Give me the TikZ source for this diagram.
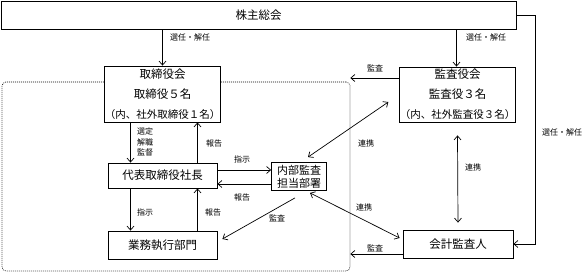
\documentclass[tikz,border=0pt]{standalone}
\usepackage{fontspec}
\setmainfont{Noto Sans CJK JP}
\usetikzlibrary{arrows.meta}

\tikzset{
  box/.style={draw, fill=white, line width=0.8pt, inner sep=0pt, font=\fontsize{11.5}{20}\selectfont, align=center},
  lbl/.style={font=\fontsize{8}{10.5}\selectfont, inner sep=0pt},
  arr/.style={-{Straight Barb[length=4pt,width=7pt]}, line width=0.7pt},
  darr/.style={{Straight Barb[length=4pt,width=7pt]}-{Straight Barb[length=4pt,width=7pt]}, line width=0.7pt}
}

\begin{document}
\begin{tikzpicture}[x=1pt,y=-1pt]
    \useasboundingbox (0,0) rectangle (584,273);
    % boxes
    \node[box, minimum width=515, minimum height=28] (soukai) at (258.5,15) {株主総会};
    \node[draw, line width=0.7pt, dash pattern=on 0.8pt off 1.2pt, rounded corners=4pt,
      minimum width=348, minimum height=189] (inner) at (176,176.5) {};
    \node[box, minimum width=109, minimum height=56] (board) at (162.5,94)
      {取締役会\\取締役５名\\{\fontsize{10.5}{20}\selectfont （内、社外取締役１名）}};
    \node[box, minimum width=109, minimum height=25] (ceo) at (162.5,175.5) {代表取締役社長};
    \node[box, minimum width=55, minimum height=28, font=\fontsize{11}{13}\selectfont] (audit) at (299,176.5) {内部監査\\担当部署};
    \node[box, minimum width=109, minimum height=55] (kansa) at (457.5,94.5)
      {監査役会\\監査役３名\\{\fontsize{10.5}{20}\selectfont （内、社外監査役３名）}};
    \node[box, minimum width=109, minimum height=28] (exec) at (162.5,245) {業務執行部門};
    \node[box, minimum width=110, minimum height=28] (kaikei) at (458,244) {会計監査人};

    % connectors
    \draw[arr] (board.north |- soukai.south) -- (board.north);
    \draw[arr] ([xshift=-1]kansa.north |- soukai.south) -- ([xshift=-1]kansa.north);
    \draw[arr] (soukai.east) -| ([xshift=22]kaikei.east) -- (kaikei.east);
    \draw[arr] ([xshift=-32]board.south) -- ([xshift=-32]ceo.north);
    \draw[arr] ([xshift=35]ceo.north) -- ([xshift=35]board.south);
    \draw[arr] ([xshift=-32]ceo.south) -- ([xshift=-32]exec.north);
    \draw[arr] ([xshift=35]exec.north) -- ([xshift=35]ceo.south);
    \draw[arr] ([yshift=5.5]ceo.east) -- ([yshift=5.5]ceo.east -| audit.west);
    \draw[arr] ([yshift=-8.5]ceo.east -| audit.west) -- ([yshift=-8.5]ceo.east);
    \draw[arr] ([xshift=-4,yshift=-7]audit.south) -- ([xshift=5,yshift=6]exec.east);
    \draw[darr] ([xshift=9,yshift=5]audit.north) -- ([xshift=-11,yshift=-7.5]kansa.west);
    \draw[darr] ([xshift=11,yshift=-2]audit.south) -- ([xshift=-3,yshift=6]kaikei.west);
    \draw[darr] ([yshift=-13]kansa.south) -- ([yshift=7]kaikei.north);
    \draw[arr] ([yshift=16.5]kansa.west) -- ([yshift=16.5]kansa.west -| inner.east);
    \draw[arr] ([yshift=-10]kaikei.west) -- ([yshift=-10]kaikei.west -| inner.east);

    % labels
    \node[lbl, anchor=west] (l1) at (170,37) {選任・解任};
    \node[lbl, anchor=west] (l2) at (466,37) {選任・解任};
    \node[lbl, anchor=west] (l3) at (542,132) {選任・解任};
    \node[lbl, anchor=west, align=left] (l4) at (137,142) {選定\\解職\\監督};
    \node[lbl, anchor=west] (l5) at (206,143) {報告};
    \node[lbl] (l6) at (242,159) {指示};
    \node[lbl] (l7) at (242,197) {報告};
    \node[lbl, anchor=west] (l8) at (137,212) {指示};
    \node[lbl, anchor=west] (l9) at (205,212) {報告};
    \node[lbl] (l10) at (277,218) {監査};
    \node[lbl] (l11) at (375,68) {監査};
    \node[lbl] (l12) at (366,143) {連携};
    \node[lbl] (l13) at (473,167) {連携};
    \node[lbl] (l14) at (364,207) {連携};
    \node[lbl] (l15) at (375,248) {監査};
\end{tikzpicture}
\end{document}
